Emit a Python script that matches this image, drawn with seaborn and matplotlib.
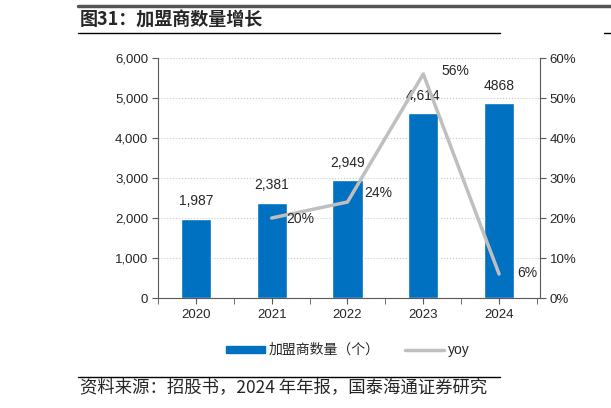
import seaborn as sns
import matplotlib.pyplot as plt
import matplotlib.lines as mlines
import matplotlib.patches as mpatches
import pandas as pd

years = ['2020', '2021', '2022', '2023', '2024']
dealers = [1987, 2381, 2949, 4614, 4868]
dealer_labels = ['1,987', '2,381', '2,949', '4,614', '4868']
yoy_years = ['2021', '2022', '2023', '2024']
yoy = [20, 24, 56, 6]

BLUE = '#0070C0'
GREY = '#BFBFBF'
AXIS = '#595959'

sns.set_style('white')
plt.rcParams['font.family'] = ['Liberation Sans', 'Noto Sans CJK SC', 'DejaVu Sans']

fig = plt.figure(figsize=(6.11, 4.08), dpi=100)
ax = fig.add_axes([0.2586, 0.2696, 0.6252, 0.5882])

df = pd.DataFrame({'year': years, 'dealers': dealers})
sns.barplot(data=df, x='year', y='dealers', color=BLUE, width=0.4,
            saturation=1, ax=ax)
ax.set_xlim(-0.49, 4.54)
ax.set_ylim(0, 6000)
ax.set_yticks(range(0, 6001, 1000))
ax.set_yticklabels([f'{v:,}' for v in range(0, 6001, 1000)])
ax.set_xticks([i + 0.5 for i in range(-1, 5)], minor=True)
ax.set_xlabel('')
ax.set_ylabel('')
ax.grid(axis='y', color='#C8C8C8', linestyle=':', linewidth=0.8)
ax.set_axisbelow(True)
for s in ['top', 'right']:
    ax.spines[s].set_visible(False)
for s in ['left', 'bottom']:
    ax.spines[s].set_color(AXIS)
ax.tick_params(axis='y', length=4, color=AXIS, labelsize=9.5, pad=3, left=True)
ax.tick_params(axis='x', which='both', length=4, color=AXIS, labelsize=9.5, pad=4, bottom=True)

for i, (v, lab) in enumerate(zip(dealers, dealer_labels)):
    ax.text(i, v + 260, lab, ha='center', va='bottom', fontsize=10)

ax2 = ax.twinx()
ydf = pd.DataFrame({'x': [years.index(y) for y in yoy_years], 'yoy': yoy})
sns.lineplot(data=ydf, x='x', y='yoy', color=GREY, linewidth=2.5, ax=ax2)
ax2.set_ylim(0, 60)
ax2.set_yticks(range(0, 61, 10))
ax2.set_yticklabels([f'{v}%' for v in range(0, 61, 10)])
ax2.set_ylabel('')
ax2.set_xlabel('')
for s in ['top', 'left', 'bottom']:
    ax2.spines[s].set_visible(False)
ax2.spines['right'].set_color(AXIS)
ax2.tick_params(axis='y', length=4, color=AXIS, labelsize=9.5, pad=3, right=True)

offsets = [(0.38, -0.3), (0.41, 2.2), (0.42, 0.8), (0.37, 0.2)]
for x, v, (dx, dy) in zip(ydf['x'], yoy, offsets):
    ax2.text(x + dx, v + dy, f'{v}%', ha='center', va='center', fontsize=10)

handles = [mpatches.Patch(color=BLUE, label='加盟商数量（个）'),
           mlines.Line2D([], [], color=GREY, linewidth=2.5, label='yoy')]
leg = fig.legend(handles=handles, loc='center', bbox_to_anchor=(0.569, 0.142),
                 ncol=2, frameon=False, fontsize=10, handlelength=2.8,
                 handleheight=0.4, columnspacing=1.8, handletextpad=0.3)

# header / footer decoration
fig.add_artist(mlines.Line2D([0.128, 1.0], [0.985, 0.985], color='#555555', linewidth=2.5))
fig.text(0.131, 0.951, '图31：加盟商数量增长', fontsize=13, fontweight='bold',
         family=['Noto Sans CJK SC'], va='center', ha='left')
fig.add_artist(mlines.Line2D([0.128, 0.818], [0.918, 0.918], color='black', linewidth=1))
fig.add_artist(mlines.Line2D([0.988, 1.0], [0.918, 0.918], color='black', linewidth=1))
fig.add_artist(mlines.Line2D([0.128, 0.818], [0.075, 0.075], color='black', linewidth=1))
fig.text(0.131, 0.05, '资料来源：招股书，2024 年年报，国泰海通证券研究', fontsize=12.5,
         family=['Noto Sans CJK SC'], va='center', ha='left')

fig.savefig('out.png', dpi=100)
